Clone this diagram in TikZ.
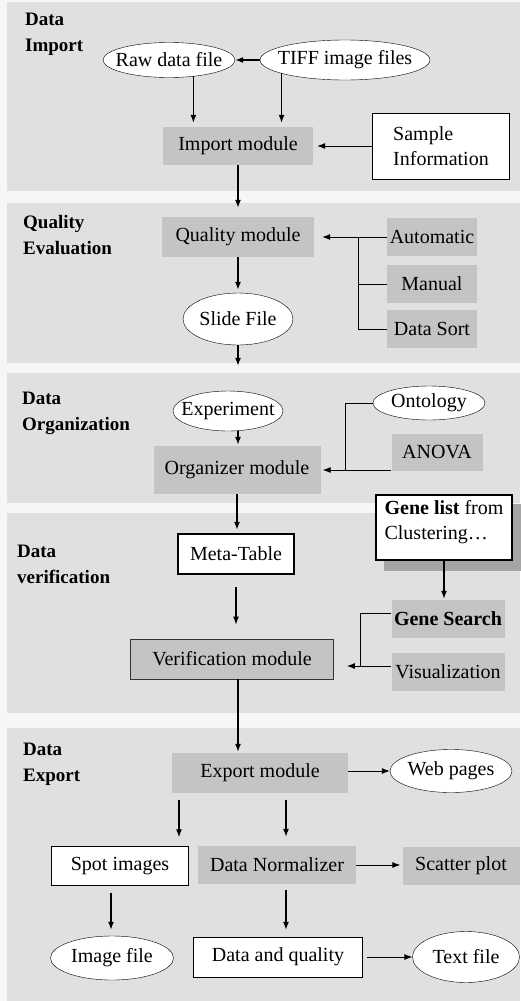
\documentclass[tikz,border=0pt]{standalone}
\usepackage{fontspec}
\setmainfont{Liberation Serif}
\usetikzlibrary{arrows.meta,positioning,shapes,calc}
\definecolor{bandgray}{RGB}{224,224,224}
\definecolor{gapgray}{RGB}{246,246,246}
\definecolor{boxgray}{RGB}{196,196,196}
\definecolor{shadowgray}{RGB}{165,165,165}
\newsavebox\ovbox

\begin{document}
\begin{tikzpicture}[x=1pt,y=-1pt,>={Latex[length=8pt,width=6pt]},
    font=\fontsize{20}{25}\selectfont,
    mod/.style={rectangle,fill=boxgray,inner sep=2pt,align=center},
    wbox/.style={rectangle,draw,fill=white,inner sep=4pt,align=left},
    oval/.style={ellipse,draw,fill=white,inner sep=0pt,
        execute at begin node={\setbox\ovbox=\hbox\bgroup},
        execute at end node={\egroup\hbox to 0pt{\hss\usebox\ovbox\hss}}},
    phase/.style={anchor=north west,align=left,inner sep=0pt,font=\fontsize{19}{26}\selectfont\bfseries},
    band/.style={fill=bandgray},
    flow/.style={->,line width=1.2pt},
    link/.style={line width=0.9pt},
    side/.style={->,line width=0.9pt}]

    \useasboundingbox (0,0) rectangle (520,1001);
    \fill[gapgray] (0,0) rectangle (520,1001);
    \foreach \ya/\yb in {2/191,203/363,373/503,513/713,728/1001}
        \fill[band] (7,\ya) rectangle (520,\yb);

    % Data import
    \node[phase] (lblimp) at (25,13) {Data\\Import};
    \node[oval,minimum width=132pt,minimum height=35pt] (raw) at (169,60) {Raw data file};
    \node[oval,minimum width=170pt,minimum height=40pt] (tiff) at (345,60) {TIFF image files};
    \node[mod,minimum width=150pt,minimum height=38pt] (imp) at (238,146) {Import module};
    \node[wbox,minimum width=137pt,minimum height=66pt] (sample) at (441,146) {Sample\\Information};

    \draw[flow] (tiff) -- (raw);
    \draw[flow,shorten >=4pt] (raw.-34) -- (raw.-34 |- imp.north);
    \draw[flow,shorten >=4pt] (tiff.192.5) -- (tiff.192.5 |- imp.north);
    \draw[side,shorten >=4pt] (sample) -- (imp);

    % Quality evaluation
    \node[phase] (lblqual) at (23,215) {Quality\\Evaluation};
    \node[mod,minimum width=152pt,minimum height=40pt] (qual) at (238,237) {Quality module};
    \node[mod,minimum width=90pt,minimum height=38pt] (auto) at (432,237) {Automatic};
    \node[mod,minimum width=90pt,minimum height=38pt] (manual) at (432,284) {Manual};
    \node[mod,minimum width=90pt,minimum height=38pt] (sort) at (432,329) {Data Sort};
    \node[oval,minimum width=110pt,minimum height=52pt] (slide) at (238,319) {Slide File};
    \coordinate (jq) at (358,237);

    \draw[flow,shorten >=9pt] (imp) -- (qual);
    \draw[side,shorten >=8pt] (auto) -- (qual);
    \draw[link] (manual.west) -| (jq);
    \draw[link] (sort.west) -| (jq);
    \draw[flow,shorten >=3pt] (qual) -- (slide);

    % Data organization
    \node[phase] (lblorg) at (22,392) {Data\\Organization};
    \node[oval,minimum width=110pt,minimum height=40pt] (exp) at (228,411) {Experiment};
    \node[oval,minimum width=112pt,minimum height=34pt] (onto) at (429,403) {Ontology};
    \node[mod,minimum width=91pt,minimum height=37pt] (anova) at (437,452) {ANOVA};
    \node[mod,minimum width=167pt,minimum height=48pt] (org) at (237,470) {Organizer module};
    \coordinate (jo) at (345,470);

    \draw[flow,shorten >=25pt] (slide) -- (slide |- exp.north);
    \draw[flow,shorten >=1pt] ([xshift=10pt]exp.south) -- ([xshift=10pt]exp.south |- org.north);
    \draw[link] (onto.west) -| (jo);
    \draw[side,shorten >=2pt] (anova.west |- jo) -- (org);

    % Data verification
    \node[phase] (lblver) at (17,545) {Data\\verification};
    \node[rectangle,draw,line width=2.5pt,fill=white,minimum width=116pt,minimum height=40pt] (meta) at (236,554) {Meta-Table};
    \fill[shadowgray] (384,504) rectangle (522,571);
    \node[wbox,line width=2pt,minimum width=136pt,minimum height=65pt] (glist) at (444,527)
        {\textbf{Gene list} from\\ Clustering\ldots\\[-10pt]\mbox{}};
    \node[mod,minimum width=113pt,minimum height=38pt,font=\fontsize{20}{25}\selectfont\bfseries] (gsearch) at (448,619) {Gene Search};
    \node[mod,minimum width=113pt,minimum height=38pt] (visual) at (448,672) {Visualization};
    \node[mod,draw=black!80,line width=0.8pt,minimum width=203pt,minimum height=40pt] (verif) at (232,659) {Verification module};
    \coordinate (jv) at (360,666);

    \draw[flow,shorten >=3pt] (org.south) -- (org.south |- meta.north);
    \draw[flow,shorten <=12pt,shorten >=14pt] (meta.south) -- (meta.south |- verif.north);
    \draw[flow,shorten >=1pt] (glist.south) -- (glist.south |- gsearch.north);
    \draw[link] ([yshift=6pt]gsearch.west) -| (jv);
    \draw[side,shorten >=13pt] (visual.west |- jv) -- (verif.east |- jv);

    % Data export
    \node[phase] (lblexp) at (23,743) {Data\\Export};
    \node[mod,minimum width=176pt,minimum height=40pt] (export) at (260,773) {Export module};
    \node[oval,minimum width=122pt,minimum height=43pt] (web) at (451,771) {Web pages};
    \node[wbox,align=center,minimum width=137pt,minimum height=39pt] (spot) at (120,866) {Spot images};
    \node[mod,minimum width=158pt,minimum height=38pt] (norm) at (277,865) {Data Normalizer};
    \node[mod,minimum width=117pt,minimum height=38pt] (scatter) at (461,866) {Scatter plot};
    \node[oval,minimum width=123pt,minimum height=44pt] (imgfile) at (112,958) {Image file};
    \node[wbox,align=center,minimum width=169pt,minimum height=40pt] (dq) at (278,957) {Data and quality};
    \node[oval,minimum width=107pt,minimum height=51pt] (txtfile) at (466,957) {Text file};

    \draw[flow,shorten >=1pt] ([xshift=6pt]verif.south) -- ([xshift=6pt]verif.south |- export.north);
    \draw[side] (export.east |- web) -- (web);
    \draw[flow,shorten <=7pt,shorten >=9pt] ([xshift=-81pt]export.south) -- ([xshift=-81pt]export.south |- spot.north);
    \draw[flow,shorten <=7pt,shorten >=9pt] ([xshift=26pt]export.south) -- ([xshift=26pt]export.south |- norm.north);
    \draw[side,shorten >=2pt] (norm) -- (norm -| scatter.west);
    \draw[flow,shorten <=7pt,shorten >=6pt] ([xshift=-9pt]spot.south) -- ([xshift=-9pt]spot.south |- imgfile.north);
    \draw[flow,shorten <=6pt,shorten >=7pt] ([xshift=9pt]norm.south) -- ([xshift=9pt]norm.south |- dq.north);
    \draw[side,shorten <=4pt] (dq) -- (txtfile);
\end{tikzpicture}
\end{document}
